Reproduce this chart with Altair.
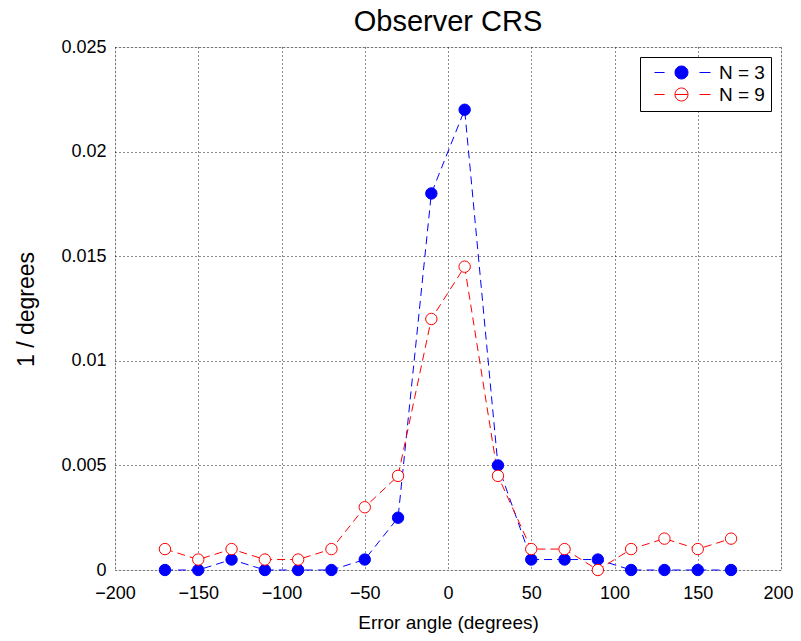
import altair as alt
import pandas as pd

angles = [-170, -150, -130, -110, -90, -70, -50, -30, -10, 10, 30, 50, 70, 90, 110, 130, 150, 170]
n3 = [0, 0, 0.0005, 0, 0, 0, 0.0005, 0.0025, 0.018, 0.022, 0.005, 0.0005, 0.0005, 0.0005, 0, 0, 0, 0]
n9 = [0.001, 0.0005, 0.001, 0.0005, 0.0005, 0.001, 0.003, 0.0045, 0.012, 0.0145, 0.0045, 0.001, 0.001, 0, 0.001, 0.0015, 0.001, 0.0015]
series = ["N = 3", "N = 9"]
colors = ["#0000ff", "#ff0000"]
fills = ["#0000ff", "#ffffff"]
x_ticks = [-200, -150, -100, -50, 0, 50, 100, 150, 200]
y_ticks = [0, 0.005, 0.01, 0.015, 0.02, 0.025]

df = pd.DataFrame(
    [{"angle": a, "value": v, "series": series[0]} for a, v in zip(angles, n3)]
    + [{"angle": a, "value": v, "series": series[1]} for a, v in zip(angles, n9)]
)

FONT = "Liberation Sans"

x = alt.X(
    "angle:Q",
    scale=alt.Scale(domain=[-200, 200], nice=False),
    axis=alt.Axis(
        values=x_ticks, title="Error angle (degrees)", grid=True,
        gridColor="#000000", gridDash=[1, 3], gridOpacity=0.9,
        ticks=False, labelPadding=14, labelFontSize=18, labelColor="#000",
        labelFont=FONT, titleFont=FONT, titleFontSize=19, titleFontWeight="normal",
        titleColor="#000", titleY=52, titleBaseline="middle",
        domain=False, labelFlush=False,
        labelAlign={"condition": {"test": "datum.value == 200", "value": "right"}, "value": "center"},
        labelOffset={"condition": {"test": "datum.value == 200", "value": 12}, "value": 0},
    ),
)
y = alt.Y(
    "value:Q",
    scale=alt.Scale(domain=[0, 0.025], nice=False),
    axis=alt.Axis(
        values=y_ticks, title="1 / degrees", grid=True, format="~g",
        gridColor="#000000", gridDash=[1, 3], gridOpacity=0.9,
        ticks=False, labelPadding=9, labelFontSize=18, labelColor="#000",
        labelFont=FONT, titleFont=FONT, titleFontSize=23, titleFontWeight="normal",
        titleColor="#000", titleX=-89, titleY=262, titleBaseline="middle",
        domain=False, labelFlush=False,
    ),
)

color_scale = alt.Scale(domain=series, range=colors)
fill_scale = alt.Scale(domain=series, range=fills)

sym_path = "M-4.15,0L-2.6,0M2.77,0L4.46,0M-1,0L1,0M-1,0A1,1 0 1,1 1,0A1,1 0 1,1 -1,0Z"

LEG = alt.Legend(
    title=None, orient="top-right", offset=10,
    strokeColor="#000", fillColor="#fff", padding=6,
    symbolType=sym_path, symbolSize=169, symbolStrokeWidth=1,
    symbolOffset=26, labelOffset=28,
    labelFont=FONT, labelFontSize=19, labelColor="#000",
    rowPadding=2,
)

lines = alt.Chart(df).mark_line(strokeDash=[8, 5], strokeWidth=1).encode(
    x=x, y=y, stroke=alt.Stroke("series:N", scale=color_scale, legend=LEG),
)

points = alt.Chart(df).mark_point(size=130, strokeWidth=1, opacity=1, filled=False).encode(
    x=x, y=y,
    stroke=alt.Stroke("series:N", scale=color_scale, legend=LEG),
    fill=alt.Fill("series:N", scale=fill_scale, legend=LEG),
)

chart = (
    alt.layer(lines, points)
    .properties(
        width=666, height=523,
        title=alt.TitleParams("Observer CRS", font=FONT, fontSize=29, fontWeight="normal",
                              color="#000", offset=1),
        autosize=alt.AutoSizeParams(type="none"),
        padding={"left": 107, "top": 39, "right": 12, "bottom": 63},
    )
    .configure_view(stroke="#333", strokeWidth=1)
    .configure(background="white")
)

chart.save("out.html", embed_options={"renderer": "svg", "actions": False})
